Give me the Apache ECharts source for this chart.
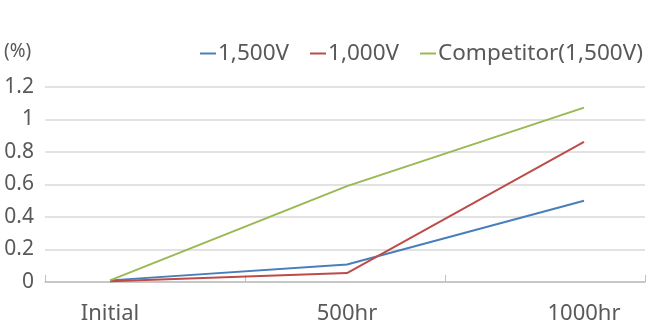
<!DOCTYPE html>
<html><head><meta charset="utf-8">
<script src="https://cdn.jsdelivr.net/npm/echarts@6/dist/echarts.min.js"></script>
<style>html,body{margin:0;padding:0;background:#fff}#c{width:651px;height:323px}</style>
</head><body><div id="c"></div>
<script>
const categories = ['Initial', '500hr', '1000hr'];
const s1500 = [0.01, 0.108, 0.5];
const s1000 = [0.005, 0.055, 0.862];
const sComp = [0.01, 0.59, 1.073];
const seriesNames = ['1,500V', '1,000V', 'Competitor(1,500V)'];
const colors = ['#4a7ebb', '#be4b48', '#98b954'];
const FONT = '"Noto Sans", "Open Sans", sans-serif';
const chart = echarts.init(document.getElementById('c'), null, {renderer: 'canvas'});
const gTop = 87, gBottom = 41;
chart.setOption({
  animation: false,
  textStyle: {fontFamily: FONT},
  legend: {
    top: 42, left: 200, width: 470, itemWidth: 16, itemHeight: 2, itemGap: 21,
    icon: 'rect', padding: 0,
    textStyle: {fontSize: 22.5, color: '#595959', fontFamily: FONT, padding: [0,0,0,-3]},
    data: seriesNames
  },
  graphic: [{type: 'text', left: 4, top: 42, style: {text: '(%)', fontSize: 19, fill: '#595959', fontFamily: FONT}}],
  grid: [
    {left: 45, right: 6, top: gTop, bottom: gBottom, outerBoundsMode: 'none', containLabel: false},
    {left: 110, right: 67, top: gTop, bottom: gBottom, outerBoundsMode: 'none', containLabel: false}
  ],
  xAxis: [
    {type: 'category', gridIndex: 0, data: categories, boundaryGap: true,
     axisLine: {lineStyle: {color: '#bfbfbf', width: 1.5}},
     axisTick: {show: true, inside: true, length: 7, lineStyle: {color: '#bfbfbf'}},
     axisLabel: {show: false}},
    {type: 'category', gridIndex: 1, data: categories, boundaryGap: false,
     axisLine: {show: false}, axisTick: {show: false},
     axisLabel: {fontSize: 22, color: '#595959', margin: 21, fontFamily: FONT}}
  ],
  yAxis: [
    {type: 'value', gridIndex: 0, min: 0, max: 1.2, interval: 0.2,
     axisLine: {show: false}, axisTick: {show: false},
     axisLabel: {fontSize: 21, color: '#595959', margin: 11, fontFamily: FONT,
       formatter: v => String(Math.round(v * 10) / 10)},
     splitLine: {lineStyle: {color: '#d9d9d9', width: 1.5}}},
    {type: 'value', gridIndex: 1, min: 0, max: 1.2, interval: 0.2, show: false,
     splitLine: {show: false}}
  ],
  series: [
    {name: seriesNames[0], type: 'line', xAxisIndex: 1, yAxisIndex: 1, data: s1500, symbol: 'none', lineStyle: {width: 2}, color: colors[0]},
    {name: seriesNames[1], type: 'line', xAxisIndex: 1, yAxisIndex: 1, data: s1000, symbol: 'none', lineStyle: {width: 2}, color: colors[1]},
    {name: seriesNames[2], type: 'line', xAxisIndex: 1, yAxisIndex: 1, data: sComp, symbol: 'none', lineStyle: {width: 2}, color: colors[2]}
  ]
});
</script></body></html>
